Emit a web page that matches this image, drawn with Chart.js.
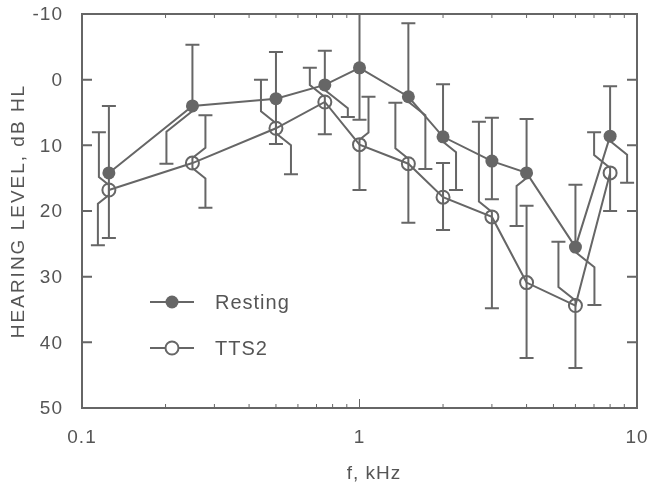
<!DOCTYPE html>
<html>
<head>
<meta charset="utf-8">
<script src="https://cdn.jsdelivr.net/npm/chart.js@4"></script>
<style>
  html, body { margin: 0; padding: 0; background: #fff; }
  #wrap { width: 655px; height: 492px; }
</style>
</head>
<body>
<div id="wrap"><canvas id="chart" width="655" height="492"></canvas></div>
<script>
// frequencies, kHz
const freqs = [0.125, 0.25, 0.5, 0.75, 1, 1.5, 2, 3, 4, 6, 8];

// hearing level, dB HL
const resting      = [14.2, 4.0, 2.9, 0.8, -1.8, 2.6, 8.7, 12.4, 14.2, 25.5, 8.6];
const restingUpper = [4.0, -5.3, -4.2, -4.4, -10.0, -8.6, 0.7, 5.8, 6.0, 16.0, 1.0];
const restingLower = [24.1, 12.8, 9.8, 5.7, 6.1, 13.6, 16.8, 18.2, 22.3, 34.3, 15.7];

const tts2      = [16.8, 12.7, 7.4, 3.4, 9.9, 12.8, 17.9, 20.9, 30.9, 34.4, 14.2];
const tts2Upper = [8.0, 5.4, 0.0, -1.8, 2.6, 3.5, 12.7, 6.4, 19.2, 24.7, 8.0];
const tts2Lower = [25.2, 19.5, 14.4, 8.3, 16.8, 21.8, 22.9, 34.8, 42.4, 43.9, 20.0];

const xTicks = [0.1, 1, 10];
const xTickLabels = ['0.1', '1', '10'];
const yTicks = [-10, 0, 10, 20, 30, 40, 50];
const yTickLabels = ['-10', '0', '10', '20', '30', '40', '50'];

// sideways bend of each error bar half, px (so the bars don't overlap)
const restingUpperBend = [0, 0, 0, 0, 0, 0, 0, 0, 0, 0, 0];
const restingLowerBend = [0, -26, 0, 23, 0, 17, 13, 0, -10, 19, 17];
const tts2UpperBend    = [-10, 13, -15, -15, 9, -13, 0, -13, 0, -17, -16];
const tts2LowerBend    = [-11, 13, 15, 0, 0, 0, 0, 0, 0, 0, 0];

const INK = '#666';
const TEXT = '#555';
const FONT = '"Liberation Sans", Arial, sans-serif';

const bars = [
  { upper: restingUpper, lower: restingLower, upBend: restingUpperBend, lowBend: restingLowerBend },
  { upper: tts2Upper, lower: tts2Lower, upBend: tts2UpperBend, lowBend: tts2LowerBend }
];

function drawHalf(ctx, px, py, capY, bend) {
  const dir = capY > py ? 1 : -1;
  ctx.beginPath();
  ctx.moveTo(px, py);
  let x = px;
  if (bend !== 0) {
    const y1 = py + dir * 5;
    const y2 = y1 + dir * Math.abs(bend) * 0.8;
    ctx.lineTo(px, y1);
    ctx.lineTo(px + bend, y2);
    x = px + bend;
  }
  ctx.lineTo(x, capY);
  ctx.moveTo(x - 7, capY);
  ctx.lineTo(x + 7, capY);
  ctx.stroke();
}

const errorBars = {
  id: 'errorBars',
  beforeDatasetsDraw(chart) {
    const { ctx } = chart;
    const yScale = chart.scales.y;
    ctx.save();
    ctx.strokeStyle = INK;
    ctx.lineWidth = 2;
    bars.forEach((b, i) => {
      const meta = chart.getDatasetMeta(i);
      meta.data.forEach((pt, j) => {
        drawHalf(ctx, pt.x, pt.y, yScale.getPixelForValue(b.upper[j]), b.upBend[j]);
        drawHalf(ctx, pt.x, pt.y, yScale.getPixelForValue(b.lower[j]), b.lowBend[j]);
      });
    });
    ctx.restore();
  }
};

const frame = {
  id: 'frame',
  afterDraw(chart) {
    const { ctx, chartArea: a } = chart;
    const xs = chart.scales.x, ys = chart.scales.y;
    ctx.save();
    ctx.strokeStyle = INK;
    ctx.lineWidth = 2;
    ctx.strokeRect(a.left, a.top, a.right - a.left, a.bottom - a.top);

    // y ticks, inward on both sides
    ctx.beginPath();
    yTicks.forEach(v => {
      const y = ys.getPixelForValue(v);
      ctx.moveTo(a.left, y); ctx.lineTo(a.left + 10, y);
      ctx.moveTo(a.right, y); ctx.lineTo(a.right - 10, y);
    });
    ctx.stroke();

    // x ticks, log minors
    ctx.lineWidth = 1;
    ctx.beginPath();
    for (let e = -1; e < 1; e++) {
      for (let m = 1; m < 10; m++) {
        const v = m * Math.pow(10, e);
        const x = xs.getPixelForValue(v);
        const len = m === 1 ? 9 : 4;
        ctx.moveTo(x, a.bottom); ctx.lineTo(x, a.bottom - len);
        ctx.moveTo(x, a.top); ctx.lineTo(x, a.top + len);
      }
    }
    ctx.stroke();

    // tick labels
    ctx.fillStyle = TEXT;
    ctx.font = '19px ' + FONT;
    ctx.textBaseline = 'middle';
    ctx.letterSpacing = '1px';
    ctx.textAlign = 'right';
    yTicks.forEach((v, i) => {
      ctx.fillText(yTickLabels[i], a.left - 19, ys.getPixelForValue(v) + 1);
    });
    ctx.textAlign = 'center';
    xTicks.forEach((v, i) => {
      ctx.fillText(xTickLabels[i], xs.getPixelForValue(v), 438);
    });

    // axis titles
    ctx.fillText('f, kHz', 374, 474);
    ctx.save();
    ctx.translate(19, (a.top + a.bottom) / 2);
    ctx.rotate(-Math.PI / 2);
    ctx.letterSpacing = '2px';
    ctx.fillText('HEARING LEVEL, dB HL', 0, 0);
    ctx.restore();

    // legend
    const items = [
      { label: 'Resting', y: 302, fill: INK },
      { label: 'TTS2', y: 348, fill: null }
    ];
    ctx.lineWidth = 2;
    items.forEach(it => {
      ctx.beginPath();
      ctx.moveTo(150, it.y); ctx.lineTo(194, it.y);
      ctx.stroke();
      ctx.beginPath();
      ctx.arc(172, it.y, 6.5, 0, Math.PI * 2);
      if (it.fill) { ctx.fillStyle = it.fill; ctx.fill(); }
      else { ctx.fillStyle = '#fff'; ctx.fill(); ctx.stroke(); }
      ctx.fillStyle = TEXT;
      ctx.textAlign = 'left';
      ctx.letterSpacing = '1px';
      ctx.font = '20px ' + FONT;
      ctx.fillText(it.label, 215, it.y + 1);
    });
    ctx.restore();
  }
};

const toPoints = vals => freqs.map((f, i) => ({ x: f, y: vals[i] }));

new Chart(document.getElementById('chart'), {
  type: 'scatter',
  data: {
    datasets: [
      {
        label: 'Resting',
        data: toPoints(resting),
        showLine: true,
        borderColor: INK,
        borderWidth: 2,
        backgroundColor: INK,
        pointRadius: 6.5,
        pointBorderWidth: 0,
        pointBackgroundColor: INK
      },
      {
        label: 'TTS2',
        data: toPoints(tts2),
        showLine: true,
        borderColor: INK,
        borderWidth: 2,
        backgroundColor: 'rgba(0,0,0,0)',
        pointRadius: 6.5,
        pointBorderWidth: 2,
        pointBackgroundColor: 'rgba(0,0,0,0)'
      }
    ]
  },
  options: {
    responsive: false,
    animation: false,
    layout: { padding: { top: 14, right: 18, bottom: 0, left: 0 } },
    plugins: { legend: { display: false }, tooltip: { enabled: false } },
    scales: {
      x: {
        type: 'logarithmic',
        min: 0.1,
        max: 10,
        afterBuildTicks: scale => { scale.ticks = xTicks.map(v => ({ value: v })); },
        afterFit: scale => { scale.height = 84; },
        grid: { display: false, drawTicks: false },
        border: { display: false },
        ticks: { display: false }
      },
      y: {
        reverse: true,
        min: -10,
        max: 50,
        afterBuildTicks: scale => { scale.ticks = yTicks.map(v => ({ value: v })); },
        afterFit: scale => { scale.width = 82; },
        grid: { display: false, drawTicks: false },
        border: { display: false },
        ticks: { display: false }
      }
    }
  },
  plugins: [errorBars, frame]
});
</script>
</body>
</html>
